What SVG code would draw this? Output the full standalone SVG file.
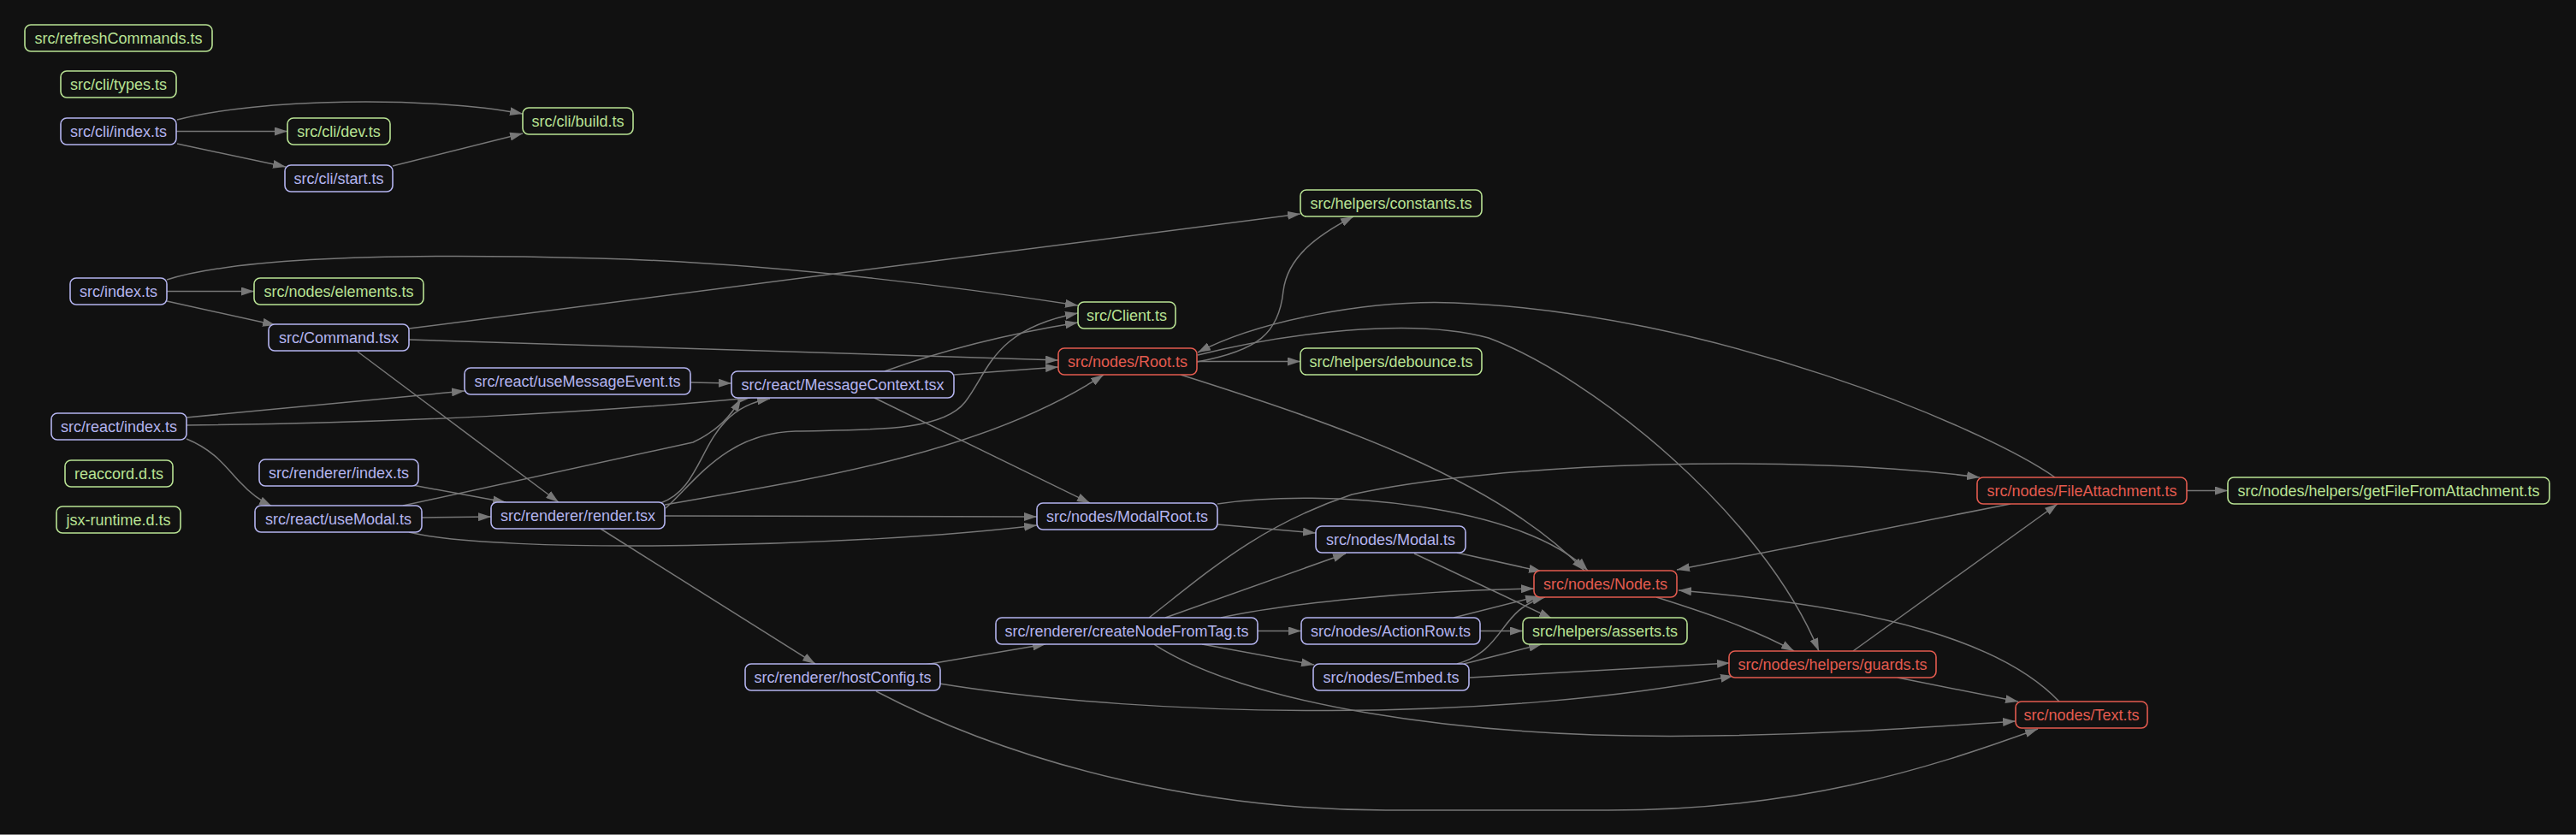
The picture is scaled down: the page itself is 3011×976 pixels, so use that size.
<svg xmlns="http://www.w3.org/2000/svg" width="3011" height="976" viewBox="0 0 3011 976">
<defs>
<marker id="arr" viewBox="0 0 15 10" refX="15" refY="5" markerWidth="15" markerHeight="10" markerUnits="userSpaceOnUse" orient="auto"><path d="M0,0L15,5L0,10z" fill="#777"/></marker>
<style>
.n rect{fill:#121212;stroke-width:1.6}
.n text{font-family:"Liberation Sans",Arial,sans-serif;font-size:18px;text-anchor:middle}
.g rect{stroke:#b9e394}.g text{fill:#b9e394}
.p rect{stroke:#b4b4ef}.p text{fill:#b4b4ef}
.r rect{stroke:#e35b4f}.r text{fill:#e35b4f}
#edges path{fill:none;stroke:#777;stroke-width:1.5;marker-end:url(#arr)}
</style>
</defs>
<rect width="3011" height="976" fill="#111111"/>
<line x1="0" y1="975.5" x2="3011" y2="975.5" stroke="#808080" stroke-width="1"/>
<g id="edges">
<path d="M207,140 C300,115 500,112 611,133"/>
<path d="M206,153.5 L336,153.5"/>
<path d="M207,168 L334,195"/>
<path d="M459,194 L611,156"/>
<path d="M195,340.5 L297,340.5"/>
<path d="M195,352 L322,380"/>
<path d="M195,327 C280,300 480,296 700,302 S1150,340 1260,357"/>
<path d="M478,384 L1520,250"/>
<path d="M478,397 L1237,421"/>
<path d="M418,411 L653,587"/>
<path d="M218,488 L543,457"/>
<path d="M218,497 C450,495 700,482 877,465"/>
<path d="M218,513 C255,528 268,552 282,565 C292,576 304,585 318,592"/>
<path d="M807,447 L855,448"/>
<path d="M1034,434 C1100,410 1180,390 1260,377"/>
<path d="M1115,438 L1237,429"/>
<path d="M1022,465 L1274,588"/>
<path d="M482,567 L591,587"/>
<path d="M471,591 L810,517 C840,503 855,485 866,466"/>
<path d="M493,605 L574,604"/>
<path d="M478,622 C580,648 1000,640 1212,614"/>
<path d="M772,588 C830,568 815,480 900,466"/>
<path d="M778,594 C815,560 850,506 930,504 S1100,506 1128,470 S1160,385 1260,366"/>
<path d="M777,590 C950,560 1150,530 1290,438"/>
<path d="M777,603 L1212,604"/>
<path d="M702,618 L953,776"/>
<path d="M1399,423 C1470,410 1495,390 1500,340 C1505,300 1540,275 1582,253"/>
<path d="M1399,422.5 L1520,422.5"/>
<path d="M1380,438 C1560,495 1750,560 1852,667"/>
<path d="M2402,558 C2320,500 2000,365 1700,354 C1600,350 1470,375 1400,412"/>
<path d="M1400,415 C1500,390 1650,370 1740,395 C1860,440 2060,600 2126,761"/>
<path d="M1423,613 L1538,623"/>
<path d="M1423,589 C1550,570 1780,590 1856,667"/>
<path d="M1703,646 L1802,668"/>
<path d="M1653,647 L1814,723"/>
<path d="M1362,722 L1573,647"/>
<path d="M1343,722 C1410,670 1470,615 1580,578 C1750,540 2100,530 2314,558"/>
<path d="M1427,722 C1500,706 1650,690 1793,688"/>
<path d="M1470,737.5 L1521,737.5"/>
<path d="M1405,753 L1536,777"/>
<path d="M1349,753 C1450,820 1700,865 2000,860 C2150,858 2250,850 2356,843"/>
<path d="M1730,737.5 L1780,737.5"/>
<path d="M1699,722 L1798,697"/>
<path d="M1703,776 C1760,760 1752,712 1806,698"/>
<path d="M1711,776 L1802,753"/>
<path d="M1718,792 L2022,775"/>
<path d="M1081,777 L1222,753"/>
<path d="M1098,799 C1350,840 1750,845 2026,790"/>
<path d="M1024,808 C1200,900 1420,947 1620,947 L1880,947 C2100,947 2250,900 2382,852"/>
<path d="M1936,698 C1990,715 2050,735 2097,761"/>
<path d="M2166,761 L2405,589"/>
<path d="M2218,792 L2359,820"/>
<path d="M2350,589 L1960,666"/>
<path d="M2556,573.5 L2604,573.5"/>
<path d="M2407,820 C2340,750 2200,710 1962,690"/>
</g>
<g id="n-refreshCommands" class="n g"><rect x="29" y="29" width="219" height="31" rx="7"/><text x="138.5" y="51">src/refreshCommands.ts</text></g>
<g id="n-cli-types" class="n g"><rect x="71" y="83" width="135" height="31" rx="7"/><text x="138.5" y="105">src/cli/types.ts</text></g>
<g id="n-cli-index" class="n p"><rect x="71" y="138" width="135" height="31" rx="7"/><text x="138.5" y="160">src/cli/index.ts</text></g>
<g id="n-cli-dev" class="n g"><rect x="336" y="138" width="120" height="31" rx="7"/><text x="396" y="160">src/cli/dev.ts</text></g>
<g id="n-cli-start" class="n p"><rect x="333" y="193" width="126" height="31" rx="7"/><text x="396" y="215">src/cli/start.ts</text></g>
<g id="n-cli-build" class="n g"><rect x="611" y="126" width="129" height="31" rx="7"/><text x="675.5" y="148">src/cli/build.ts</text></g>
<g id="n-index" class="n p"><rect x="82" y="325" width="113" height="31" rx="7"/><text x="138.5" y="347">src/index.ts</text></g>
<g id="n-elements" class="n g"><rect x="297" y="325" width="198" height="31" rx="7"/><text x="396" y="347">src/nodes/elements.ts</text></g>
<g id="n-command" class="n p"><rect x="314" y="379" width="164" height="31" rx="7"/><text x="396" y="401">src/Command.tsx</text></g>
<g id="n-useMessageEvent" class="n p"><rect x="543" y="430" width="264" height="31" rx="7"/><text x="675" y="452">src/react/useMessageEvent.ts</text></g>
<g id="n-react-index" class="n p"><rect x="60" y="483" width="158" height="31" rx="7"/><text x="139" y="505">src/react/index.ts</text></g>
<g id="n-reaccord" class="n g"><rect x="76" y="538" width="126" height="31" rx="7"/><text x="139" y="560">reaccord.d.ts</text></g>
<g id="n-jsx-runtime" class="n g"><rect x="66" y="592" width="145" height="31" rx="7"/><text x="138.5" y="614">jsx-runtime.d.ts</text></g>
<g id="n-renderer-index" class="n p"><rect x="303" y="537" width="186" height="31" rx="7"/><text x="396" y="559">src/renderer/index.ts</text></g>
<g id="n-useModal" class="n p"><rect x="298" y="591" width="195" height="31" rx="7"/><text x="395.5" y="613">src/react/useModal.ts</text></g>
<g id="n-render" class="n p"><rect x="574" y="587" width="203" height="31" rx="7"/><text x="675.5" y="609">src/renderer/render.tsx</text></g>
<g id="n-messageContext" class="n p"><rect x="855" y="434" width="260" height="31" rx="7"/><text x="985" y="456">src/react/MessageContext.tsx</text></g>
<g id="n-constants" class="n g"><rect x="1520" y="222" width="212" height="31" rx="7"/><text x="1626" y="244">src/helpers/constants.ts</text></g>
<g id="n-client" class="n g"><rect x="1260" y="353" width="114" height="31" rx="7"/><text x="1317" y="375">src/Client.ts</text></g>
<g id="n-root" class="n r"><rect x="1237" y="407" width="162" height="31" rx="7"/><text x="1318" y="429">src/nodes/Root.ts</text></g>
<g id="n-debounce" class="n g"><rect x="1520" y="407" width="212" height="31" rx="7"/><text x="1626" y="429">src/helpers/debounce.ts</text></g>
<g id="n-modalRoot" class="n p"><rect x="1212" y="588" width="211" height="31" rx="7"/><text x="1317.5" y="610">src/nodes/ModalRoot.ts</text></g>
<g id="n-modal" class="n p"><rect x="1538" y="615" width="175" height="31" rx="7"/><text x="1625.5" y="637">src/nodes/Modal.ts</text></g>
<g id="n-node" class="n r"><rect x="1793" y="667" width="167" height="31" rx="7"/><text x="1876.5" y="689">src/nodes/Node.ts</text></g>
<g id="n-createNodeFromTag" class="n p"><rect x="1164" y="722" width="306" height="31" rx="7"/><text x="1317" y="744">src/renderer/createNodeFromTag.ts</text></g>
<g id="n-actionRow" class="n p"><rect x="1521" y="722" width="209" height="31" rx="7"/><text x="1625.5" y="744">src/nodes/ActionRow.ts</text></g>
<g id="n-asserts" class="n g"><rect x="1780" y="722" width="192" height="31" rx="7"/><text x="1876" y="744">src/helpers/asserts.ts</text></g>
<g id="n-hostConfig" class="n p"><rect x="871" y="776" width="228" height="31" rx="7"/><text x="985" y="798">src/renderer/hostConfig.ts</text></g>
<g id="n-embed" class="n p"><rect x="1535" y="776" width="182" height="31" rx="7"/><text x="1626" y="798">src/nodes/Embed.ts</text></g>
<g id="n-guards" class="n r"><rect x="2021" y="761" width="242" height="31" rx="7"/><text x="2142" y="783">src/nodes/helpers/guards.ts</text></g>
<g id="n-text" class="n r"><rect x="2356" y="820" width="154" height="31" rx="7"/><text x="2433" y="842">src/nodes/Text.ts</text></g>
<g id="n-fileAttachment" class="n r"><rect x="2311" y="558" width="245" height="31" rx="7"/><text x="2433.5" y="580">src/nodes/FileAttachment.ts</text></g>
<g id="n-getFileFromAttachment" class="n g"><rect x="2604" y="558" width="376" height="31" rx="7"/><text x="2792" y="580">src/nodes/helpers/getFileFromAttachment.ts</text></g>
</svg>
